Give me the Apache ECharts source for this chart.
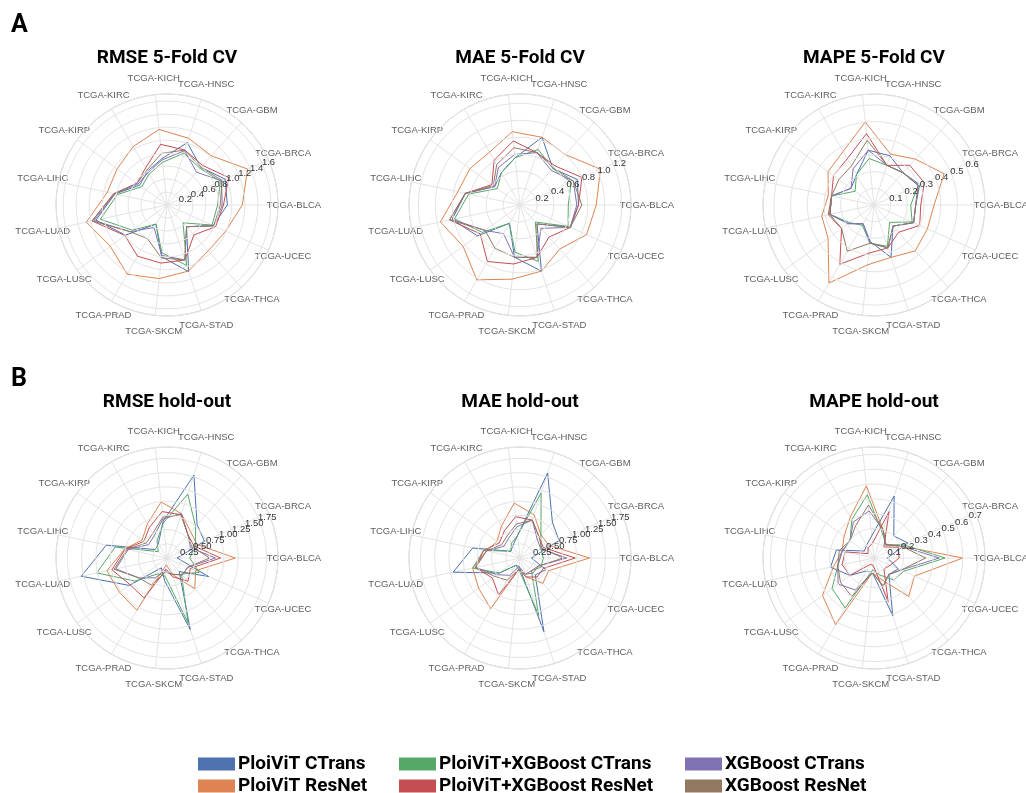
<!DOCTYPE html>
<html lang="en">
<head>
<meta charset="UTF-8">
<title>Radar panels</title>
<script src="https://cdn.jsdelivr.net/npm/echarts@6/dist/echarts.min.js"></script>
</head>
<body style="margin:0;background:#fff">
<div id="main" style="width:1026px;height:793px;"></div>
<script>
// cancer types, counter-clockwise from the right
const cancers = ['TCGA-BLCA', 'TCGA-BRCA', 'TCGA-GBM', 'TCGA-HNSC', 'TCGA-KICH', 'TCGA-KIRC', 'TCGA-KIRP',
  'TCGA-LIHC', 'TCGA-LUAD', 'TCGA-LUSC', 'TCGA-PRAD', 'TCGA-SKCM', 'TCGA-STAD', 'TCGA-THCA', 'TCGA-UCEC'];
const models = ['PloiViT CTrans', 'PloiViT ResNet', 'PloiViT+XGBoost CTrans',
  'PloiViT+XGBoost ResNet', 'XGBoost CTrans', 'XGBoost ResNet'];
const colors = ['#4c72b0', '#dd8452', '#55a868', '#c44e52', '#8172b3', '#937860'];

// RMSE 5-fold CV (one row per model, same order as models)
const rmseCv = [
  [0.93, 0.98, 0.78, 1.01, 0.72, 0.60, 0.52, 0.82, 1.12, 0.79, 0.34, 0.80, 1.08, 0.45, 0.78],
  [1.16, 1.36, 1.02, 1.08, 1.17, 1.04, 0.95, 0.94, 1.27, 1.08, 1.23, 1.14, 1.07, 0.95, 0.99],
  [0.78, 0.90, 0.76, 0.84, 0.66, 0.55, 0.48, 0.78, 1.05, 0.66, 0.34, 0.74, 0.98, 0.37, 0.76],
  [0.87, 1.04, 0.82, 0.89, 0.94, 0.66, 0.57, 0.84, 1.18, 0.80, 0.91, 0.90, 0.89, 0.62, 0.82],
  [0.85, 0.92, 0.68, 0.88, 0.70, 0.58, 0.55, 0.82, 1.15, 0.70, 0.40, 0.78, 0.89, 0.45, 0.79],
  [0.82, 0.93, 0.78, 0.89, 0.80, 0.62, 0.57, 0.83, 1.18, 0.70, 0.60, 0.82, 0.89, 0.45, 0.79]
];
const maeCv = [
  [0.69, 0.74, 0.58, 0.84, 0.56, 0.44, 0.37, 0.66, 0.82, 0.62, 0.25, 0.62, 0.82, 0.30, 0.65],
  [0.90, 1.04, 0.80, 0.84, 0.87, 0.72, 0.73, 0.75, 0.96, 0.83, 1.02, 0.88, 0.82, 0.70, 0.86],
  [0.57, 0.66, 0.58, 0.69, 0.56, 0.44, 0.33, 0.62, 0.79, 0.55, 0.25, 0.56, 0.70, 0.27, 0.62],
  [0.69, 0.80, 0.62, 0.65, 0.76, 0.61, 0.41, 0.66, 0.85, 0.58, 0.77, 0.70, 0.65, 0.51, 0.65],
  [0.67, 0.69, 0.55, 0.65, 0.60, 0.51, 0.37, 0.66, 0.82, 0.51, 0.39, 0.62, 0.65, 0.37, 0.65],
  [0.73, 0.69, 0.59, 0.65, 0.68, 0.55, 0.39, 0.66, 0.85, 0.51, 0.59, 0.62, 0.65, 0.30, 0.65]
];
const mapeCv = [
  [0.25, 0.30, 0.26, 0.31, 0.33, 0.21, 0.17, 0.26, 0.27, 0.19, 0.13, 0.22, 0.33, 0.17, 0.26],
  [0.36, 0.46, 0.37, 0.32, 0.50, 0.37, 0.34, 0.28, 0.32, 0.34, 0.54, 0.36, 0.33, 0.37, 0.35],
  [0.22, 0.29, 0.26, 0.25, 0.28, 0.21, 0.14, 0.26, 0.27, 0.18, 0.14, 0.23, 0.26, 0.14, 0.25],
  [0.28, 0.33, 0.32, 0.25, 0.43, 0.32, 0.30, 0.26, 0.28, 0.24, 0.41, 0.29, 0.27, 0.22, 0.30],
  [0.25, 0.29, 0.26, 0.25, 0.33, 0.25, 0.17, 0.26, 0.27, 0.19, 0.13, 0.23, 0.27, 0.17, 0.26],
  [0.25, 0.29, 0.26, 0.25, 0.39, 0.27, 0.26, 0.26, 0.27, 0.24, 0.32, 0.23, 0.27, 0.17, 0.26]
];
const rmseHo = [
  [0.18, 0.72, 0.79, 1.53, 0.65, 0.30, 0.25, 1.09, 1.54, 0.82, 0.20, 0.40, 1.32, 0.32, 0.80],
  [1.20, 0.58, 0.62, 0.82, 0.99, 0.69, 0.54, 0.76, 1.08, 1.03, 1.06, 0.12, 0.30, 0.73, 0.55],
  [0.40, 0.55, 0.75, 1.18, 0.62, 0.35, 0.19, 0.93, 1.26, 0.69, 0.32, 0.32, 1.20, 0.38, 0.62],
  [0.94, 0.52, 0.55, 0.80, 0.82, 0.62, 0.50, 0.75, 0.99, 0.80, 0.81, 0.22, 0.35, 0.55, 0.45],
  [0.85, 0.45, 0.55, 0.82, 0.69, 0.45, 0.40, 0.70, 0.92, 0.60, 0.40, 0.20, 0.30, 0.40, 0.40],
  [0.75, 0.48, 0.55, 0.80, 0.72, 0.50, 0.45, 0.72, 0.95, 0.60, 0.55, 0.25, 0.30, 0.40, 0.40]
];
const maeHo = [
  [0.20, 0.75, 0.85, 1.57, 0.40, 0.25, 0.20, 0.85, 1.20, 0.45, 0.15, 0.15, 1.36, 0.40, 0.50],
  [1.22, 0.55, 0.55, 0.80, 0.97, 0.65, 0.50, 0.60, 0.85, 0.90, 1.03, 0.20, 0.35, 0.60, 0.55],
  [0.41, 0.40, 0.55, 1.20, 0.40, 0.30, 0.20, 0.65, 0.85, 0.45, 0.15, 0.20, 1.06, 0.30, 0.40],
  [0.97, 0.45, 0.50, 0.70, 0.73, 0.55, 0.45, 0.65, 0.80, 0.60, 0.75, 0.20, 0.35, 0.45, 0.45],
  [0.82, 0.40, 0.45, 0.70, 0.55, 0.40, 0.35, 0.60, 0.80, 0.50, 0.35, 0.15, 0.30, 0.30, 0.35],
  [0.76, 0.42, 0.50, 0.70, 0.60, 0.45, 0.40, 0.60, 0.80, 0.55, 0.45, 0.20, 0.30, 0.35, 0.35]
];
const mapeHo = [
  [0.09, 0.25, 0.20, 0.44, 0.15, 0.10, 0.08, 0.26, 0.30, 0.20, 0.10, 0.10, 0.41, 0.15, 0.18],
  [0.60, 0.20, 0.12, 0.20, 0.49, 0.32, 0.25, 0.22, 0.28, 0.43, 0.52, 0.10, 0.15, 0.35, 0.30],
  [0.48, 0.22, 0.12, 0.18, 0.43, 0.30, 0.20, 0.22, 0.25, 0.35, 0.39, 0.08, 0.12, 0.20, 0.22],
  [0.17, 0.18, 0.10, 0.33, 0.10, 0.08, 0.05, 0.20, 0.22, 0.20, 0.05, 0.05, 0.31, 0.10, 0.12],
  [0.44, 0.20, 0.12, 0.20, 0.32, 0.28, 0.20, 0.22, 0.25, 0.30, 0.25, 0.10, 0.20, 0.15, 0.20],
  [0.35, 0.20, 0.12, 0.20, 0.36, 0.25, 0.20, 0.24, 0.25, 0.28, 0.30, 0.10, 0.20, 0.15, 0.20]
];

// panel setup: title, data, radial max, tick step, decimals, centre
const panels = [
  { title: 'RMSE 5-Fold CV', data: rmseCv, max: 1.71, step: 0.2, dec: 1, c: [167, 205], ty: 57 },
  { title: 'MAE 5-Fold CV', data: maeCv, max: 1.31, step: 0.2, dec: 1, c: [520, 205], ty: 57 },
  { title: 'MAPE 5-Fold CV', data: mapeCv, max: 0.665, step: 0.1, dec: 1, c: [874, 205], ty: 57 },
  { title: 'RMSE hold-out', data: rmseHo, max: 1.95, step: 0.25, dec: 2, c: [167, 558], ty: 401 },
  { title: 'MAE hold-out', data: maeHo, max: 1.95, step: 0.25, dec: 2, c: [520, 558], ty: 401 },
  { title: 'MAPE hold-out', data: mapeHo, max: 0.75, step: 0.1, dec: 1, c: [874, 558], ty: 401 }
];
const R = 111;
const labelR = 127; // cancer names are centred on this ring
const step = 360 / cancers.length;

// the radial axis lies on the BRCA spoke (start angle 24), so BLCA sits at -24
const angleOf = k => (k * step - step + 360) % 360;

const gridColor = '#e4e4e4';
const labelFont = 'Liberation Sans, Arial, sans-serif';
const boldFont = 'Roboto';

var option = {
  animation: false,
  backgroundColor: '#fff',
  title: [],
  polar: [],
  angleAxis: [],
  radiusAxis: [],
  legend: [],
  series: []
};

option.title.push({ text: 'A', left: 11, top: 13, padding: 0, textStyle: { fontFamily: boldFont, fontWeight: 'bold', fontSize: 25, color: '#000' } });
option.title.push({ text: 'B', left: 11, top: 367, padding: 0, textStyle: { fontFamily: boldFont, fontWeight: 'bold', fontSize: 25, color: '#000' } });

panels.forEach((p, i) => {
  option.title.push({
    text: p.title, left: p.c[0], top: p.ty - 8, textAlign: 'center', padding: 0,
    textStyle: { fontFamily: boldFont, fontWeight: 'bold', fontSize: 19, color: '#000' }
  });
  option.polar.push({ center: p.c, radius: R });
  option.angleAxis.push({
    polarIndex: i, type: 'value', min: 0, max: 360, interval: step,
    startAngle: step, clockwise: false,
    axisLine: { show: true, lineStyle: { color: '#cccccc', width: 1 } },
    axisTick: { show: false },
    axisLabel: { show: false },
    splitLine: { show: true, lineStyle: { color: gridColor, width: 1 } }
  });
  option.radiusAxis.push({
    polarIndex: i, type: 'value', min: 0, max: p.max, interval: p.step,
    axisLine: { show: false },
    axisTick: { show: false },
    splitLine: { show: true, lineStyle: { color: gridColor, width: 1 } },
    axisLabel: {
      fontSize: 9.5, color: '#333', fontFamily: labelFont, margin: 0,
      align: 'left', verticalAlign: 'middle', padding: [0, 0, 8, 0],
      formatter: v => {
        const k = v / p.step;
        if (v === 0 || Math.abs(k - Math.round(k)) > 1e-6) return '';
        return v.toFixed(p.dec);
      }
    },
    z: 5
  });
  p.data.forEach((vals, m) => {
    const pts = vals.map((v, k) => [v, angleOf(k)]);
    pts.push(pts[0].slice());
    option.series.push({
      name: models[m], type: 'line', coordinateSystem: 'polar', polarIndex: i,
      data: pts, symbol: 'none', smooth: false, clip: false,
      lineStyle: { color: colors[m], width: 1 },
      itemStyle: { color: colors[m] },
      z: 3
    });
  });
  // cancer names, centred just outside the outer ring
  option.series.push({
    type: 'scatter', coordinateSystem: 'polar', polarIndex: i, silent: true, clip: false,
    symbolSize: 0,
    data: cancers.map((c, k) => [p.max * labelR / R, angleOf(k)]),
    label: {
      show: true, position: 'inside', align: 'center', verticalAlign: 'middle',
      fontSize: 9.5, color: '#333', fontFamily: labelFont,
      formatter: d => cancers[d.dataIndex]
    }
  });
});

// legend: three columns of two entries
const legendPos = [[198, 754], [198, 776], [399, 754], [399, 776], [685, 754], [685, 776]];
models.forEach((m, k) => {
  option.legend.push({
    left: legendPos[k][0], top: legendPos[k][1], padding: 0,
    itemWidth: 37, itemHeight: 13, icon: 'rect',
    data: [m], selectedMode: false,
    textStyle: { fontFamily: boldFont, fontWeight: 'bold', fontSize: 19, color: '#000', lineHeight: 20, padding: [0, 0, 0, -2] }
  });
});

var myChart = echarts.init(document.getElementById('main'));
myChart.setOption(option);
</script>
</body>
</html>
